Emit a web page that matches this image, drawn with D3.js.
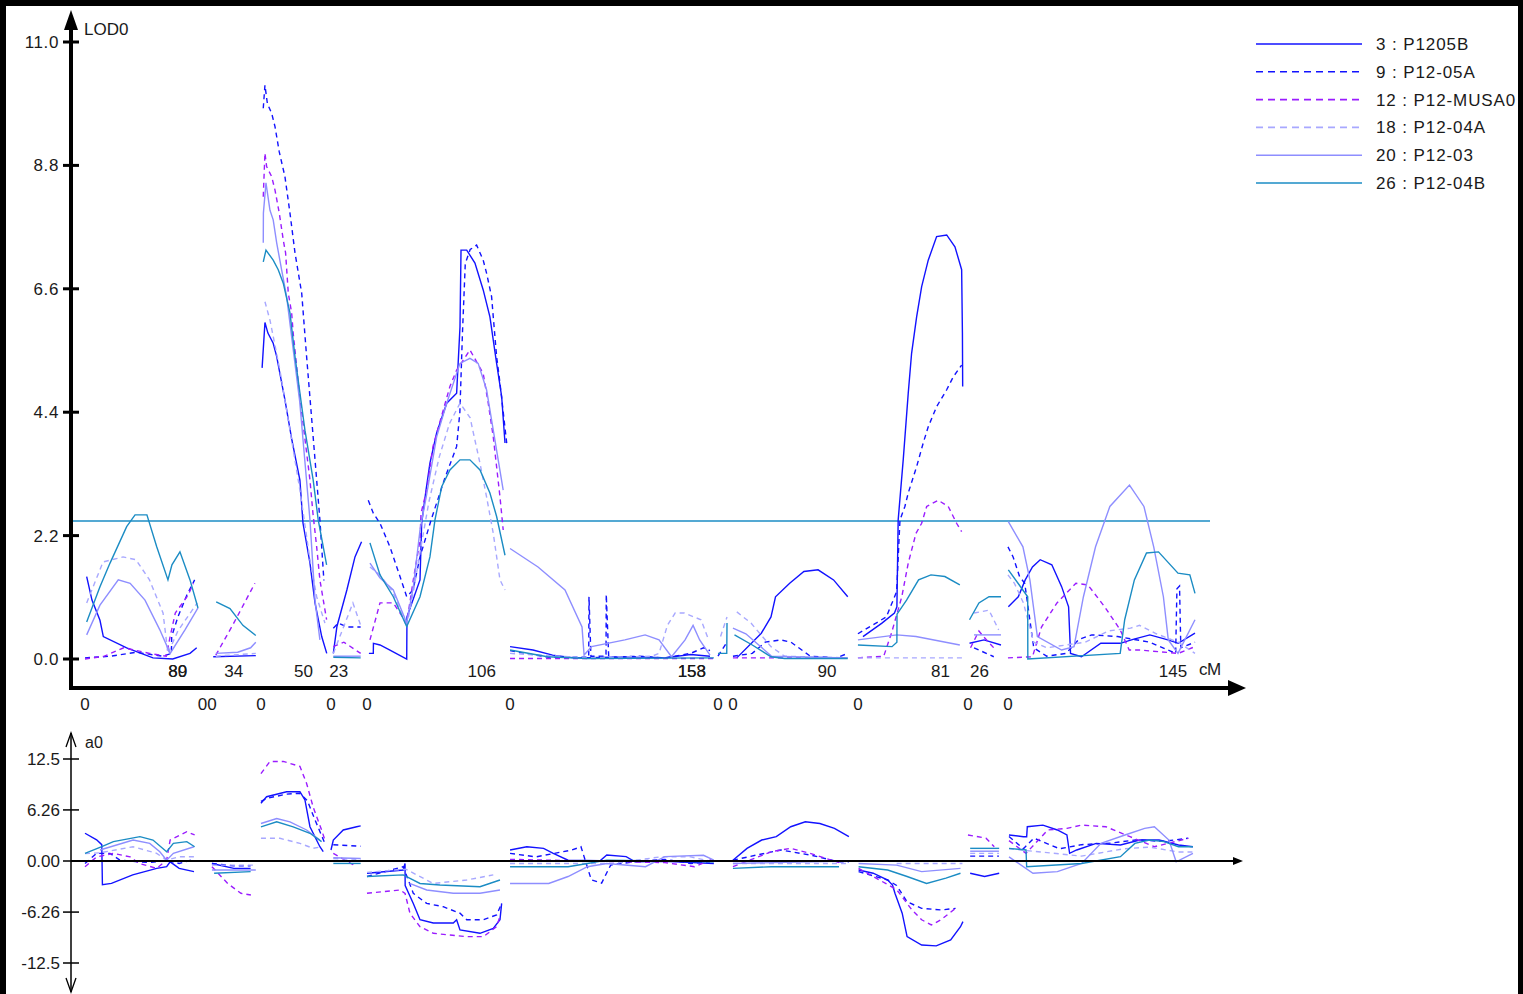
<!DOCTYPE html>
<html>
<head>
<meta charset="utf-8">
<script src="https://cdn.jsdelivr.net/npm/d3@7"></script>
<style>
  html, body { margin: 0; padding: 0; background: #000; }
  svg text { font-family: "Liberation Sans", Arial, sans-serif; fill: #1a1a1a; }
</style>
</head>
<body>
<div id="chart"></div>
<script>
// chromosomes: cumulative start (cM), length (cM), end labels
const chromNames = [`A`, `B0`, `B`, `C`, `D`, `E`, `F`, `G0`, `G`, `H`, `I`, `J`];
const chromStart = [0, 91.1, 98.4, 136.4, 190.7, 218.6, 329.5, 490.7, 502.3, 599.2, 684.5, 715.5];
const chromLength = [89, 2, 34, 50, 23, 106, 158, 8, 90, 81, 26, 145];
const chromEndLabels = [[`80`, `89`], [], [`34`], [`50`], [`23`], [`106`], [`153`, `158`], [], [`90`], [`81`], [`26`], [`145`]];

const seriesNames = [`3 : P1205B`, `9 : P12-05A`, `12 : P12-MUSA0`, `18 : P12-04A`, `20 : P12-03`, `26 : P12-04B`];
const lodTicks = [0, 2.2, 4.4, 6.6, 8.8, 11.0];
const effTicks = [-12.5, -6.26, 0, 6.26, 12.5];
const effTickLabels = [`-12.5`, `-6.26`, `0.00`, `6.26`, `12.5`];
const threshold = 2.46;

// LOD profiles, [cM, LOD] per chromosome
const lod3 = {
  A: [[1.3,1.47],[5.4,1.05],[11.6,0.69],[14.2,0.4],[32.3,0.2],[52.7,0.02],[68,0],[81.4,0.1],[86.6,0.2]],
  B: [[1,0.04],[34,0.06]],
  C: [[0.9,5.19],[3.1,6.0],[5.4,5.81],[9.5,5.63],[12.2,5.39],[18.6,4.62],[24,3.9],[30.2,3.19],[32.6,2.42],[38,1.71],[41.9,1.0],[47.1,0.4],[51,0.1]],
  D: [[1.8,0.1],[4.6,0.58],[12.3,1.23],[18.6,1.82],[23.7,2.09]],
  E: [[1.5,0.1],[4.9,0.1],[5,0.28],[10.1,0.25],[17.8,0.16],[30.8,0.0],[31,0.75],[41.1,1.41],[42.4,2.42],[45.7,3.0],[48.8,3.49],[54,4.03],[61.8,4.56],[69.5,4.74],[72.1,5.92],[72.9,7.29],[77.3,7.29],[83.7,7.06],[90.1,6.58],[95.3,6.1],[100.5,5.27],[104.4,4.68],[107,3.85]],
  F: [[0,0.22],[17.8,0.16],[33,0.07],[50,0.02],[80,0.03],[100,0.04],[120,0.02],[140,0.08],[155,0.05]],
  G: [[3,0.02],[22,0.46],[29.5,0.75],[33,1.11],[44,1.35],[55,1.56],[66,1.59],[78,1.41],[89,1.11]],
  H: [[3.9,0.4],[18.6,0.64],[28.3,0.82],[30.2,0.93],[31.2,2.48],[35.1,3.55],[39,4.74],[41.6,5.45],[45.5,6.1],[49.4,6.64],[54.5,7.11],[61,7.53],[68.8,7.56],[75.2,7.35],[80.4,6.94],[81,5.81],[81.2,4.86]],
  I: [[1.2,0.28],[12.4,0.34],[25.6,0.25]],
  J: [[0.3,0.93],[8,1.11],[13.4,1.41],[19,1.64],[25,1.77],[34,1.68],[41.6,1.29],[47,0.93],[48.5,0.1],[57,0.04],[72,0.28],[87,0.28],[97,0.35],[110,0.43],[124,0.34],[132,0.28],[145,0.46]],
};
const lod9 = {
  A: [[0,0.02],[20,0.05],[40,0.12],[60,0.05],[67,0.1],[67.2,0.4],[72,0.75],[79,1.14],[85,1.41]],
  C: [[1.8,9.82],[3.1,10.23],[5,9.9],[8.3,9.73],[10.9,9.49],[14.2,9.04],[18.6,8.6],[22.5,7.95],[26.4,7.24],[31.6,6.52],[35.4,5.39],[43.2,3.19],[45.7,2.48],[48.8,1.4]],
  D: [[1.8,0.55],[5.7,0.64],[12.4,0.57],[23,0.57]],
  E: [[1,2.83],[4.9,2.6],[10.1,2.42],[17.8,2.0],[25.6,1.47],[30.8,1.11],[35.7,1.23],[41.1,1.82],[50,2.5],[60,3.2],[69.5,3.79],[72,4.4],[74,5.8],[76.2,7.05],[80,7.3],[85,7.38],[90.1,7.11],[92.7,6.88],[96.6,6.46],[97.9,6.1],[100.5,5.39],[103.1,4.92],[108.3,3.85]],
  F: [[0,0.15],[12,0.1],[30,0.03],[61,0.03],[61.2,1.11],[62.7,0.05],[74.4,0.05],[74.6,1.15],[76.5,0.03],[100,0.05],[120,0.02],[140,0.1],[150,0.2],[155,0.15]],
  G0: [[0,0.05],[7,0.3]],
  G: [[0,0.05],[15,0.1],[25,0.3],[37,0.34],[45,0.3],[60,0.05],[80,0.02],[89,0.1]],
  H: [[0,0.45],[22,0.75],[30,1.2],[32,2.2],[32.6,2.48],[36.4,2.72],[39,2.96],[45.5,3.43],[50.6,3.85],[54.5,4.14],[61,4.5],[68.8,4.8],[73.9,5.03],[80.4,5.24]],
  I: [[4.7,0.2],[20,0.04]],
  J: [[0,2.0],[4,1.82],[9,1.47],[13,1.35],[20,0.2],[30,0.05],[45,0.1],[55,0.35],[65,0.43],[85,0.4],[110,0.3],[130,0.1],[131,1.25],[133,1.3],[134,0.2],[145,0.3]],
};
const lod12 = {
  A: [[0,0],[15,0.05],[30,0.2],[50,0.1],[63,0.05],[66,0.4],[70,0.82],[80,1.14],[84,1.35]],
  B: [[3,0.07],[16,0.6],[33.3,1.35]],
  C: [[1.8,8.24],[3.1,9.02],[4.4,8.78],[8.3,8.6],[10.9,8.36],[14.2,7.95],[17.3,7.47],[19.1,7.24],[21.2,6.52],[23.8,6.17],[25,5.81],[30,4.7],[38,3.19],[40.3,2.6],[43.2,2.0],[45.7,1.41],[50.9,0.7]],
  D: [[1.8,0.22],[10,0.3],[23,0.1]],
  E: [[2.3,0.34],[10.1,1.0],[20.4,1.0],[30.8,0.64],[35.9,1.41],[41.1,2.12],[41.9,2.6],[46.3,3.01],[51.2,3.79],[64.3,4.86],[69.5,5.15],[79.8,5.51],[90.1,5.09],[94,4.56],[97.9,3.96],[103.1,2.89],[105.6,2.3]],
  F: [[0,0.01],[158,0.01]],
  G: [[0,0.02],[89,0.02]],
  H: [[0,0.02],[20,0.05],[26,0.46],[34,1.11],[39,1.71],[45,2.24],[49.4,2.42],[53.3,2.72],[62.2,2.83],[70,2.72],[76.5,2.42],[80.4,2.27]],
  I: [[2,0.2],[8.5,0.5],[12,0.4],[20,0.2]],
  J: [[0,0.02],[19,0.04],[26,0.57],[38,1.0],[52.7,1.35],[62,1.32],[75,0.93],[87,0.52],[94,0.16],[102,0.16],[132,0.1],[145,0.22]],
};
const lod18 = {
  A: [[1.3,1.0],[14,1.73],[29.5,1.82],[39.5,1.77],[50,1.41],[60.5,0.82],[64.3,0.1],[72,0.5],[87,1.0]],
  B: [[3,0.05],[34,0.1]],
  C: [[3.1,6.37],[7,6.04],[14.7,5.15],[22.5,4.08],[30.2,3.01],[38,1.77],[43.2,1.11],[49.6,0.64]],
  D: [[1.8,0.1],[17,1.0],[23,0.6]],
  E: [[2.3,1.64],[10,1.5],[20,1.2],[30.8,0.58],[36,1.2],[41.1,1.9],[48,2.8],[56,3.6],[64,4.2],[72.1,4.56],[80,4.3],[82,4.08],[87.6,3.49],[92.7,2.89],[97.9,2.24],[103.1,1.41],[107,1.23]],
  F: [[0,0.1],[60,0.02],[110,0.05],[115.5,0.1],[122,0.6],[128,0.82],[135,0.82],[148,0.7],[154,0.34]],
  G0: [[2,0.4],[7,0.75]],
  G: [[3,0.84],[14,0.64],[29.5,0.22],[40,0.05],[89,0.02]],
  H: [[0,0.02],[81,0.02]],
  I: [[4.7,0.82],[16.3,0.87],[23.8,0.52]],
  J: [[0,1.5],[5,1.35],[12,1.0],[20,0.3],[30,0.2],[45,0.25],[60,0.3],[78,0.5],[95,0.55],[102,0.6],[115,0.45],[132,0.3],[145,0.1]],
};
const lod20 = {
  A: [[1.3,0.43],[11.6,0.96],[25.8,1.41],[35,1.35],[46.5,1.05],[58,0.52],[66,0.1],[77.5,0.52],[87.6,0.91]],
  B: [[3,0.1],[20,0.12],[30,0.2],[34,0.3]],
  C: [[1.8,7.42],[1.9,7.95],[3.9,8.49],[7,8.0],[9.5,7.83],[12.2,7.42],[16,6.94],[19.9,6.46],[30,4.6],[38,2.48],[41.9,1.05],[45.7,0.34]],
  D: [[1.8,0.05],[23,0.05]],
  E: [[2.3,1.71],[10,1.45],[20.4,1.23],[30.8,0.64],[36,1.3],[41.1,2.3],[46,2.9],[54,3.96],[61.8,4.56],[72.1,5.27],[79.8,5.36],[86.2,5.27],[92.7,4.8],[97.9,4.08],[105.6,3.01]],
  F: [[0,1.97],[21.7,1.64],[42.6,1.23],[55.8,0.57],[57.4,0.07],[63.2,0.22],[89,0.34],[104.7,0.43],[115.5,0.34],[125.2,0.04],[135.7,0.34],[141.9,0.6],[147,0.34],[155,0.07]],
  G: [[0,0.55],[10,0.45],[20,0.25],[30,0.05],[89,0.02]],
  H: [[0,0.34],[30.2,0.43],[45,0.4],[79,0.25]],
  I: [[4.7,0.43],[25.6,0.43]],
  J: [[0.3,2.45],[11.6,2.0],[17,1.41],[22.8,0.4],[41.6,0.16],[51.2,0.22],[58.5,1.11],[67.9,2.0],[79,2.72],[94.2,3.1],[105.4,2.72],[113,2.0],[120.5,1.11],[124.3,0.34],[131.8,0.1],[145,0.7]],
};
const lod26 = {
  A: [[1.3,0.66],[11.6,1.29],[19.4,1.71],[32.3,2.36],[38.8,2.57],[48,2.57],[55.6,2.0],[64.3,1.41],[67.4,1.68],[73.6,1.91],[81.4,1.41],[87.6,0.91]],
  B: [[3.3,1.02],[14,0.9],[24,0.6],[34,0.42]],
  C: [[1.8,7.08],[3.9,7.29],[9.5,7.11],[13.4,6.94],[17.3,6.7],[22.5,6.17],[26.4,5.39],[34.1,4.08],[40.5,3.19],[44.4,2.48],[50.9,1.68]],
  D: [[1.8,0.03],[23,0.02]],
  E: [[2.3,2.07],[10.1,1.5],[20.4,1.11],[30.8,0.58],[41.1,1.11],[48.8,1.82],[52.7,2.48],[57.9,3.07],[64.3,3.37],[72.1,3.55],[79.8,3.55],[87.6,3.37],[95.3,2.96],[100.5,2.54],[107,1.85]],
  F: [[0,0.16],[29,0.04],[60,0.01],[158,0.02]],
  G0: [[0,0.1],[6.8,0.1],[7,0.64]],
  G: [[1.2,0.43],[15,0.25],[29.5,0.04],[40,0.01],[89,0.01]],
  H: [[0,0.25],[26.4,0.22],[30.2,0.3],[30.3,0.8],[37.7,1.05],[47,1.41],[56.6,1.5],[67.4,1.47],[79,1.32]],
  I: [[1.2,0.7],[8.5,1.0],[16.3,1.11],[25.6,1.11]],
  J: [[0.3,1.59],[7.8,1.35],[15.3,1.11],[15.4,0],[87,0.1],[90.5,0.7],[98,1.41],[107.4,1.89],[116.7,1.91],[131.8,1.53],[141,1.5],[145,1.17]],
};

// additive effects a0, [cM, a0] per chromosome
const eff3 = {
  A: [[0,3.4],[9,2.6],[13,2.0],[13.5,-2.9],[20.5,-2.75],[37,-1.7],[55.6,-0.9],[63.3,-0.7],[66,-0.1],[73,-0.9],[84.5,-1.3]],
  B: [[0,-0.3],[17,-0.9],[30,-0.9]],
  C: [[0,7.07],[4.4,7.88],[19.9,8.49],[30.2,8.49],[34.1,7.48],[38,4.2],[45.7,1.75],[48.3,1.14]],
  D: [[0,1.35],[1.8,2.57],[9.5,3.8],[19.9,4.2],[23,4.3]],
  E: [[0,-1.5],[28.1,-1.1],[29.5,-0.3],[29.6,-3.0],[35.9,-5.2],[41.1,-7.2],[51.4,-7.6],[66.9,-7.6],[69.5,-7.2],[72.1,-8.45],[87.6,-8.86],[97.9,-8.25],[103.1,-7.2],[104.4,-5.2]],
  F: [[0,1.35],[13,1.75],[26,1.55],[33.5,0.94],[45,0.1],[70,0.05],[75,0.74],[90,0.53],[97,-0.1],[120,-0.05],[158,-0.3]],
  G: [[0,0.1],[10.9,1.55],[22.3,2.57],[33.6,2.98],[44.8,4.2],[56.1,4.8],[67.4,4.6],[78.7,4.0],[89.9,2.98]],
  H: [[0.5,-1.1],[11.8,-1.5],[23.1,-2.33],[26.8,-2.94],[28.7,-3.96],[34.3,-6.4],[38.1,-9.27],[49.4,-10.3],[60.7,-10.4],[71.9,-9.68],[79.5,-8.05],[81.4,-7.43]],
  I: [[1.7,-1.5],[12.9,-1.9],[24.2,-1.5]],
  J: [[0.8,3.19],[12,2.98],[14.5,2.98],[15,4.2],[27.1,4.4],[38.3,3.8],[45.7,3.19],[47.8,0.94],[53.3,1.35],[68.4,2.16],[87.2,1.96],[102.2,2.57],[117.2,2.57],[132.2,1.96],[143.4,1.75]],
};
const eff9 = {
  A: [[0,-0.3],[9,0.94],[19.4,0.94],[27,0.1],[50,-0.2],[63.3,0.1],[73,-0.3],[84.5,0.2]],
  B: [[0,-0.3],[17,-0.6],[30,-0.6]],
  C: [[0,7.3],[5,7.7],[20,8.2],[30,8.3],[36,7.4],[42,5.0],[50,2.0]],
  D: [[1.8,2.0],[23,1.8]],
  E: [[0,-1.9],[28.1,-0.7],[35.9,-3.96],[46.3,-5.2],[59.1,-5.6],[72.1,-6.4],[77.3,-7.2],[90.2,-7.2],[100.5,-6.6],[104.4,-5.2]],
  F: [[0,0.94],[20,0.5],[48,1.35],[55,1.75],[63,-2.3],[71,-2.7],[78,-0.5],[100,0.0],[120,0.2],[140,-0.3],[155,-0.1]],
  G: [[0,0.1],[18.6,0.74],[37.2,1.35],[59.7,0.74],[82.2,-0.1],[89.9,-0.1]],
  H: [[0.5,-1.3],[23.1,-2.33],[30,-3.0],[38.1,-5.0],[49.4,-5.8],[64.4,-6.0],[75.7,-5.8]],
  I: [[1.7,0.6],[24,0.6]],
  J: [[0.8,3.0],[12,1.5],[20,2.8],[40,1.5],[57,2.0],[80,2.2],[100,2.6],[120,2.4],[139.8,2.8]],
};
const eff12 = {
  A: [[0,-0.7],[9,0.5],[22,0.94],[35,0.5],[42,-0.3],[55.6,-0.9],[63.3,0.1],[66,2.57],[78.9,3.59],[85,3.19]],
  B: [[0,-0.7],[12.2,-2.75],[22.5,-3.96],[30.2,-4.17]],
  C: [[0,10.7],[7,12.2],[17.3,12.2],[30.2,11.6],[35.4,9.5],[40.5,6.6],[47,3.8],[49.6,2.57]],
  D: [[1.8,0.94],[19.9,-0.7]],
  E: [[0,-3.96],[25.6,-3.55],[29.5,-3.96],[33.3,-6.4],[41.1,-8.05],[51.4,-8.86],[64.3,-9.07],[77.3,-9.27],[90.2,-9.27],[100.5,-8.05],[103.1,-6.8]],
  F: [[0,0.2],[60,0.0],[120,-0.2],[143,-0.7],[158,0.3]],
  G: [[0,-0.7],[29.8,1.14],[44.8,1.55],[59.7,0.94],[82.2,-0.2]],
  H: [[0.5,-0.9],[30,-3.5],[41.9,-6.0],[49.4,-7.2],[56.9,-7.84],[64.4,-7.2],[75.7,-5.8]],
  I: [[0,3.19],[14,2.8],[20.4,1.75]],
  J: [[0.8,2.5],[14,0.94],[30.9,3.8],[45.7,4.0],[57.1,4.4],[75.9,4.2],[94.6,2.98],[113.5,1.75],[139.8,2.78]],
};
const eff18 = {
  A: [[0,0.9],[11.6,1.0],[37.3,1.75],[55.6,0.94],[63.3,0.1],[73,0.53],[85,0.53]],
  B: [[0,-0.5],[34,-0.5]],
  C: [[0,2.78],[14.7,2.78],[30.2,2.16],[40.5,1.55],[47,1.75]],
  D: [[1.8,0.3],[23,0.2]],
  E: [[0,-1.4],[30,-1.0],[51.4,-2.75],[77.3,-2.33],[97.9,-1.7]],
  F: [[0,-0.3],[80,-0.3],[116,0.5],[140,0.5],[158,-0.1]],
  G: [[0,-0.3],[89,-0.3]],
  H: [[30,-0.3],[81,-0.3]],
  I: [[1.7,0.94],[24,0.94]],
  J: [[0.8,1.5],[57,0.6],[90,1.5],[110,1.7],[132,1.1],[143,1.1]],
};
const eff20 = {
  A: [[11.6,1.35],[37.3,2.57],[50.2,2.16],[58,1.14],[63.3,0.1],[68.5,0.94],[84.5,1.75]],
  B: [[0,-1.1],[34,-1.1]],
  C: [[0,4.6],[12.2,5.2],[22.5,4.8],[35.4,3.8],[45.7,2.57]],
  D: [[1.8,0.4],[23,0.3]],
  E: [[33,-2.75],[46.3,-3.55],[66.9,-3.96],[87.6,-3.96],[103.1,-3.55]],
  F: [[0,-2.75],[30,-2.75],[45,-1.9],[60,-0.7],[75,-0.3],[105,-0.7],[120,0.53],[150,0.7],[158,0.1]],
  G: [[0,-0.3],[89,0.0]],
  H: [[0.5,-0.3],[30,-0.5],[49.4,-1.3],[79.5,-0.9]],
  I: [[1.7,1.2],[24,1.2]],
  J: [[0.8,0.5],[19.4,-1.5],[38.3,-1.3],[57.1,-0.3],[72.1,2.16],[90.7,3.19],[106,4.0],[113.5,4.2],[124.8,2.57],[130.4,-0.1],[143.4,0.94]],
};
const eff26 = {
  A: [[0,0.94],[13,1.75],[22,2.37],[42.6,2.98],[52.7,2.57],[63.3,1.14],[68.5,2.16],[78.9,2.37],[85,1.75]],
  B: [[1.7,-1.5],[30,-1.3]],
  C: [[0,4.19],[12.2,4.8],[25,4.19],[38,3.4],[47,2.37]],
  D: [[1.8,-0.3],[23,-0.3]],
  E: [[0,-1.9],[28.1,-1.7],[41.1,-2.75],[56.6,-2.94],[87.6,-3.15],[103.1,-2.33]],
  F: [[0,-0.7],[45,-0.7],[60,-0.3],[75,0.1],[158,-0.1]],
  G: [[0,-0.9],[29.8,-0.7],[82.2,-0.7]],
  H: [[0.5,-0.7],[23.1,-1.1],[38.1,-1.9],[53.2,-2.75],[68.2,-2.1],[79.5,-1.5]],
  I: [[1.7,1.55],[24.2,1.55]],
  J: [[0.8,1.55],[14,1.35],[14.5,-0.7],[57.1,-0.3],[87.2,0.53],[98.4,2.16],[109.7,2.57],[120.9,2.37],[132.2,1.75],[143.4,1.75]],
};

const lodSeries = [lod3, lod9, lod12, lod18, lod20, lod26];
const effSeries = [eff3, eff9, eff12, eff18, eff20, eff26];

// styles
const colors = [`#1212ff`, `#1212ff`, `#9a1cff`, `#a8a8ff`, `#8e8eff`, `#1b8cc4`];
const dashes = [null, `5,4`, `5,4`, `5,4`, null, null];
const fontSize = 17;

const W = 1523, H = 994;
const svg = d3.select(`#chart`).append(`svg`)
  .attr(`width`, W).attr(`height`, H)
  .style(`display`, `block`);

svg.append(`rect`).attr(`width`, W).attr(`height`, H).attr(`fill`, `#000`);
svg.append(`rect`).attr(`x`, 6).attr(`y`, 6).attr(`width`, 1512).attr(`height`, H - 6).attr(`fill`, `#fff`);

const axisX = 71;
const x = d3.scaleLinear().domain([0, 860.5]).range([85, 1195]);
const yLod = d3.scaleLinear().domain([0, 11]).range([659, 42]);
const yEff = d3.scaleLinear().domain([-12.5, 12.5]).range([963, 759]);

const chromIndex = name => chromNames.indexOf(name);

const drawSeries = (g, series, yScale) => {
  series.forEach((s, i) => {
    Object.keys(s).forEach(chr => {
      const off = chromStart[chromIndex(chr)];
      const line = d3.line()
        .x(d => x(off + d[0]))
        .y(d => yScale(d[1]));
      g.append(`path`)
        .attr(`d`, line(s[chr]))
        .attr(`fill`, `none`)
        .attr(`stroke`, colors[i])
        .attr(`stroke-width`, 1.4)
        .attr(`stroke-dasharray`, dashes[i]);
    });
  });
};

// ---- top panel ----
const topPanel = svg.append(`g`);

// threshold
topPanel.append(`line`)
  .attr(`x1`, axisX).attr(`x2`, 1210)
  .attr(`y1`, yLod(threshold)).attr(`y2`, yLod(threshold))
  .attr(`stroke`, `#1b8cc4`).attr(`stroke-width`, 1.5);

drawSeries(topPanel.append(`g`), lodSeries, yLod);

// axes
topPanel.append(`line`).attr(`x1`, axisX).attr(`x2`, axisX).attr(`y1`, 690).attr(`y2`, 24)
  .attr(`stroke`, `#000`).attr(`stroke-width`, 4);
topPanel.append(`path`).attr(`d`, `M${axisX},10 L${axisX - 7},30 L${axisX + 7},30 Z`).attr(`fill`, `#000`);
topPanel.append(`line`).attr(`x1`, axisX - 2).attr(`x2`, 1232).attr(`y1`, 688).attr(`y2`, 688)
  .attr(`stroke`, `#000`).attr(`stroke-width`, 4);
topPanel.append(`path`).attr(`d`, `M1246,688 L1228,680 L1228,696 Z`).attr(`fill`, `#000`);

topPanel.selectAll(`.lod-tick`).data(lodTicks).enter().append(`line`)
  .attr(`x1`, axisX - 8).attr(`x2`, axisX + 8)
  .attr(`y1`, d => yLod(d)).attr(`y2`, d => yLod(d))
  .attr(`stroke`, `#000`).attr(`stroke-width`, 3);
topPanel.selectAll(`.lod-label`).data(lodTicks).enter().append(`text`)
  .attr(`x`, 59).attr(`y`, d => yLod(d) + 6)
  .attr(`text-anchor`, `end`).attr(`font-size`, fontSize).attr(`letter-spacing`, 0.6)
  .text(d3.format(`.1f`));
topPanel.append(`text`).attr(`x`, 84).attr(`y`, 35).attr(`font-size`, fontSize).text(`LOD0`);
topPanel.append(`text`).attr(`x`, 1199).attr(`y`, 675).attr(`font-size`, fontSize).attr(`letter-spacing`, -0.5).text(`cM`);

// chromosome labels
chromNames.forEach((c, i) => {
  topPanel.append(`text`)
    .attr(`x`, x(chromStart[i])).attr(`y`, 710)
    .attr(`text-anchor`, `middle`).attr(`font-size`, fontSize)
    .text(`0`);
  chromEndLabels[i].forEach(lbl => {
    topPanel.append(`text`)
      .attr(`x`, x(chromStart[i] + chromLength[i]) - 22).attr(`y`, 677)
      .attr(`text-anchor`, `middle`).attr(`font-size`, fontSize)
      .text(lbl);
  });
});

// legend
const legend = svg.append(`g`);
seriesNames.forEach((name, i) => {
  const ly = 44 + i * 27.8;
  legend.append(`line`)
    .attr(`x1`, 1256).attr(`x2`, 1362).attr(`y1`, ly).attr(`y2`, ly)
    .attr(`stroke`, colors[i]).attr(`stroke-width`, 1.6)
    .attr(`stroke-dasharray`, dashes[i] ? `7,5` : null);
  legend.append(`text`)
    .attr(`x`, 1376).attr(`y`, ly + 6)
    .attr(`font-size`, fontSize).attr(`letter-spacing`, 0.9)
    .text(name);
});

// ---- bottom panel ----
const botPanel = svg.append(`g`);
drawSeries(botPanel.append(`g`), effSeries, yEff);

botPanel.append(`line`).attr(`x1`, axisX).attr(`x2`, axisX).attr(`y1`, 733).attr(`y2`, 992)
  .attr(`stroke`, `#000`).attr(`stroke-width`, 1.5);
botPanel.append(`path`).attr(`d`, `M${axisX - 5},747 L${axisX},733 L${axisX + 5},747`)
  .attr(`fill`, `none`).attr(`stroke`, `#000`).attr(`stroke-width`, 1.3);
botPanel.append(`path`).attr(`d`, `M${axisX - 5},978 L${axisX},992 L${axisX + 5},978`)
  .attr(`fill`, `none`).attr(`stroke`, `#000`).attr(`stroke-width`, 1.3);
botPanel.append(`line`).attr(`x1`, axisX).attr(`x2`, 1236).attr(`y1`, yEff(0)).attr(`y2`, yEff(0))
  .attr(`stroke`, `#000`).attr(`stroke-width`, 2);
botPanel.append(`path`).attr(`d`, `M1243,${yEff(0)} L1233,${yEff(0) - 4} L1233,${yEff(0) + 4} Z`).attr(`fill`, `#000`);

botPanel.selectAll(`.eff-tick`).data(effTicks).enter().append(`line`)
  .attr(`x1`, axisX - 8).attr(`x2`, axisX + 8)
  .attr(`y1`, d => yEff(d)).attr(`y2`, d => yEff(d))
  .attr(`stroke`, `#000`).attr(`stroke-width`, 1.5);
botPanel.selectAll(`.eff-label`).data(effTicks).enter().append(`text`)
  .attr(`x`, 60).attr(`y`, d => yEff(d) + 6)
  .attr(`text-anchor`, `end`).attr(`font-size`, fontSize)
  .text((d, i) => effTickLabels[i]);
botPanel.append(`text`).attr(`x`, 85).attr(`y`, 748).attr(`font-size`, 16).text(`a0`);

// frame over everything
svg.append(`rect`).attr(`x`, 0).attr(`y`, 0).attr(`width`, W).attr(`height`, 6).attr(`fill`, `#000`);
svg.append(`rect`).attr(`x`, 0).attr(`y`, 0).attr(`width`, 6).attr(`height`, H).attr(`fill`, `#000`);
svg.append(`rect`).attr(`x`, 1518).attr(`y`, 0).attr(`width`, 5).attr(`height`, H).attr(`fill`, `#000`);
</script>
</body>
</html>
